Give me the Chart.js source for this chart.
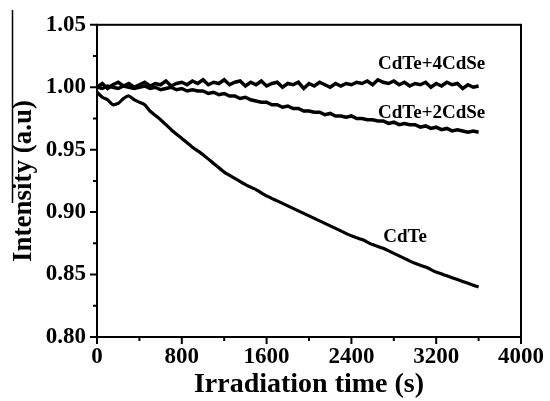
<!DOCTYPE html>
<html><head><meta charset="utf-8">
<script src="https://cdn.jsdelivr.net/npm/chart.js@4/dist/chart.umd.min.js"></script>
<style>html,body{margin:0;padding:0;background:#fff;}#wrap{width:550px;height:401px;}</style>
</head><body><div id="wrap"><canvas id="c" width="550" height="401"></canvas></div>
<script>
// ---- data ----
const xTicks = [0, 800, 1600, 2400, 3200, 4000];
const yTicks = [0.80, 0.85, 0.90, 0.95, 1.00, 1.05];
const seriesNames = ['CdTe', 'CdTe+2CdSe', 'CdTe+4CdSe'];

const timeCdTe = [0, 50, 100, 150, 200, 250, 300, 350, 400, 450, 500,
  600, 700, 800, 900, 1000, 1100, 1200, 1300, 1400, 1500, 1600, 1700, 1800, 1900,
  2000, 2100, 2200, 2300, 2400, 2500, 2600, 2700, 2800, 2900, 3000, 3100, 3200,
  3300, 3400, 3500, 3600];
const valCdTe = [0.996, 0.992, 0.990, 0.986, 0.987, 0.991, 0.993, 0.990, 0.988, 0.986, 0.981,
  0.974, 0.966, 0.959, 0.952, 0.946, 0.939, 0.932, 0.927, 0.922, 0.918, 0.913, 0.909, 0.905, 0.901,
  0.897, 0.893, 0.889, 0.885, 0.881, 0.878, 0.874, 0.871, 0.867, 0.863, 0.859, 0.856, 0.852,
  0.849, 0.846, 0.843, 0.840];

const timeCdSe = [0, 50, 100, 150, 200, 250, 300, 350, 400, 450,
  500, 550, 600, 650, 700, 750, 800, 850, 900, 950,
  1000, 1050, 1100, 1150, 1200, 1250, 1300, 1350, 1400, 1450,
  1500, 1550, 1600, 1650, 1700, 1750, 1800, 1850, 1900, 1950,
  2000, 2050, 2100, 2150, 2200, 2250, 2300, 2350, 2400, 2450,
  2500, 2550, 2600, 2650, 2700, 2750, 2800, 2850, 2900, 2950,
  3000, 3050, 3100, 3150, 3200, 3250, 3300, 3350, 3400, 3450,
  3500, 3550, 3600];
const val2CdSe = [1.000, 0.999, 1.001, 1.000, 0.999, 1.001, 1.000, 0.999, 1.000, 1.001,
  0.999, 1.000, 0.998, 0.999, 1.000, 0.998, 0.999, 0.997, 0.998, 0.997,
  0.997, 0.995, 0.996, 0.994, 0.995, 0.993, 0.993, 0.991, 0.992, 0.990,
  0.989, 0.988, 0.988, 0.986, 0.986, 0.984, 0.985, 0.983, 0.983, 0.981,
  0.981, 0.980, 0.980, 0.978, 0.979, 0.977, 0.977, 0.976, 0.977, 0.975,
  0.975, 0.974, 0.974, 0.973, 0.973, 0.971, 0.972, 0.970, 0.971, 0.970,
  0.970, 0.968, 0.969, 0.967, 0.968, 0.966, 0.967, 0.965, 0.966, 0.965,
  0.964, 0.965, 0.964];
const val4CdSe = [1.000, 1.003, 0.999, 1.002, 1.004, 1.001, 1.003, 1.000, 1.002, 1.004,
  1.001, 1.003, 1.002, 1.005, 1.001, 1.003, 1.004, 1.002, 1.005, 1.003,
  1.006, 1.002, 1.004, 1.003, 1.006, 1.002, 1.004, 1.005, 1.001, 1.004,
  1.002, 1.005, 1.001, 1.003, 1.004, 1.000, 1.003, 1.002, 1.004, 0.999,
  1.003, 1.001, 1.004, 1.002, 1.000, 1.003, 1.001, 1.003, 1.002, 1.004,
  1.003, 1.005, 1.002, 1.006, 1.004, 1.003, 1.005, 1.002, 1.004, 1.001,
  1.003, 1.002, 1.004, 1.000, 1.003, 1.001, 1.004, 1.002, 1.003, 0.999,
  1.002, 1.000, 1.001];

// ---- chart ----
const FONT = '"Liberation Serif", "Times New Roman", serif';
const pts = (ts, vs) => ts.map((t, i) => ({x: t, y: vs[i]}));

const labelPlugin = {
  id: 'frameLabels',
  afterDraw(chart) {
    const ctx = chart.ctx, a = chart.chartArea;
    const xs = chart.scales.x, ys = chart.scales.y;
    ctx.save();
    ctx.strokeStyle = '#000';
    ctx.lineWidth = 2;
    ctx.strokeRect(a.left, a.top, a.right - a.left, a.bottom - a.top);
    ctx.beginPath();
    xTicks.forEach((v, i) => {
      const p = xs.getPixelForValue(v);
      ctx.moveTo(p, a.bottom); ctx.lineTo(p, a.bottom + 7);
      if (i < xTicks.length - 1) {
        const m = xs.getPixelForValue((v + xTicks[i + 1]) / 2);
        ctx.moveTo(m, a.bottom); ctx.lineTo(m, a.bottom + 4);
      }
    });
    yTicks.forEach((v, i) => {
      const p = ys.getPixelForValue(v);
      ctx.moveTo(a.left, p); ctx.lineTo(a.left - 7, p);
      if (i < yTicks.length - 1) {
        const m = ys.getPixelForValue((v + yTicks[i + 1]) / 2);
        ctx.moveTo(a.left, m); ctx.lineTo(a.left - 4, m);
      }
    });
    ctx.stroke();
    // stray scan line at left edge
    ctx.lineWidth = 1.5;
    ctx.beginPath(); ctx.moveTo(12.5, 10); ctx.lineTo(12.5, 203); ctx.stroke();
    // series labels
    ctx.fillStyle = '#000';
    ctx.font = 'bold 19px ' + FONT;
    ctx.textBaseline = 'middle';
    ctx.textAlign = 'left';
    const anchors = chart.options.plugins.frameLabels.anchors;
    seriesNames.forEach((n, i) => {
      const an = anchors[i];
      ctx.fillText(n, xs.getPixelForValue(an[0]), ys.getPixelForValue(an[1]));
    });
    ctx.restore();
  }
};

new Chart(document.getElementById('c'), {
  type: 'line',
  data: {
    datasets: [
      {label: seriesNames[0], data: pts(timeCdTe, valCdTe), borderColor: '#000', borderWidth: 3.2, pointRadius: 0, tension: 0.2},
      {label: seriesNames[1], data: pts(timeCdSe, val2CdSe), borderColor: '#000', borderWidth: 3.5, pointRadius: 0, tension: 0},
      {label: seriesNames[2], data: pts(timeCdSe, val4CdSe), borderColor: '#000', borderWidth: 3.5, pointRadius: 0, tension: 0}
    ]
  },
  options: {
    responsive: false,
    animation: false,
    devicePixelRatio: 1,
    layout: {padding: {top: 22, right: 26, left: 0, bottom: 0}},
    plugins: {
      legend: {display: false},
      tooltip: {enabled: false},
      frameLabels: {anchors: [[2700, 0.8797], [2651, 0.9795], [2651, 1.0187]]}
    },
    scales: {
      x: {
        type: 'linear', min: 0, max: 4000,
        grid: {display: false, drawTicks: false},
        border: {display: false},
        afterBuildTicks: s => { s.ticks = xTicks.map(v => ({value: v})); },
        afterFit: s => { s.height = 64; },
        ticks: {color: '#000', font: {family: FONT, size: 23, weight: 'bold'}, padding: 6, maxRotation: 0, autoSkip: false,
          callback: v => String(v)},
        title: {display: true, text: 'Irradiation time (s)', color: '#000',
          font: {family: FONT, size: 28, weight: 'bold'}, padding: {top: 0, bottom: -1}}
      },
      y: {
        type: 'linear', min: 0.80, max: 1.05,
        grid: {display: false, drawTicks: false},
        border: {display: false},
        afterBuildTicks: s => { s.ticks = yTicks.map(v => ({value: v})); },
        afterFit: s => { s.width = 97; },
        ticks: {color: '#000', font: {family: FONT, size: 23, weight: 'bold'}, padding: 11,
          callback: v => Number(v).toFixed(2)},
        title: {display: true, text: 'Intensity (a.u)', color: '#000',
          font: {family: FONT, size: 27, weight: 'bold'}, padding: {top: 8, bottom: 0}}
      }
    }
  },
  plugins: [labelPlugin]
});
</script></body></html>
